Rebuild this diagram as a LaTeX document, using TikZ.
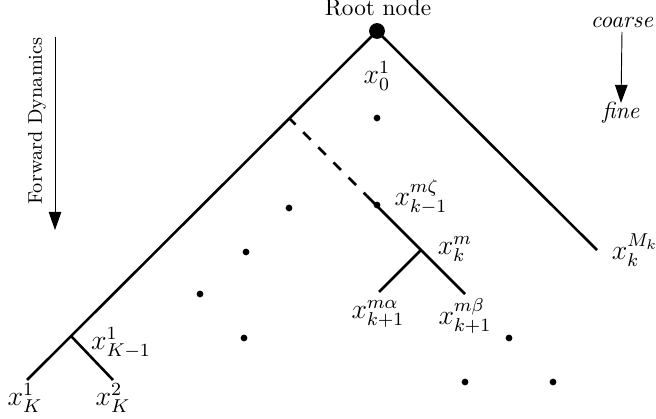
\documentclass[tikz,border=0pt]{standalone}
\usetikzlibrary{arrows.meta}
\begin{document}
\begin{tikzpicture}[x=0.43pt,y=-0.43pt,
  branch/.style={line width=1.1pt},
  dotmark/.style={circle,fill=black,inner sep=0pt,minimum size=2.9pt},
  lbl/.style={inner sep=0pt},
  mlbl/.style={inner sep=0pt,font=\large},
  bigarrow/.style={line width=0.4pt,-{Triangle[length=7.8pt,width=5.4pt]}}]
\useasboundingbox (0,0) rectangle (656,419);
% coordinates
\node[circle,fill=black,inner sep=0pt,minimum size=6.8pt] (root) at (377,31) {};
\coordinate (lend) at (27,380);
\coordinate (lb) at (71,336);
\coordinate (lbr) at (113,380);
\coordinate (ds) at (289,118);
\coordinate (de) at (367,196);
\coordinate (mb) at (421,250);
\coordinate (mend) at (465,294);
\coordinate (mal) at (379,292);
\coordinate (rend) at (597,250);
% tree lines
\draw[branch] (root.center) -- (lend);
\draw[branch] (lb) -- (lbr);
\draw[branch] (root.center) -- (rend);
\draw[branch,dash pattern=on 4.6pt off 4.6pt,dash phase=0.6pt] (ds) -- (de);
\draw[branch] (de) -- (mend);
\draw[branch] (mb) -- (mal);
% dots
\node[dotmark] (d1) at (377,118) {};
\node[dotmark] (d2) at (377,205) {};
\node[dotmark] (d3) at (289,208) {};
\node[dotmark] (d4) at (246,252) {};
\node[dotmark] (d5) at (200,294) {};
\node[dotmark] (d6) at (244,338) {};
\node[dotmark] (d7) at (509,338) {};
\node[dotmark] (d8) at (465,382) {};
\node[dotmark] (d9) at (553,382) {};
% labels
\node[lbl] (troot) at (378,8) {Root node};
\node[mlbl] (t0) at (377,76) {$x_0^1$};
\node[mlbl] (tzeta) at (421,197) {$x_{k-1}^{m\zeta}$};
\node[mlbl] (tkm) at (455,249) {$x_k^m$};
\node[mlbl] (tMk) at (635,250) {$x_k^{M_k}$};
\node[mlbl] (talpha) at (378,314) {$x_{k+1}^{m\alpha}$};
\node[mlbl] (tbeta) at (465,316) {$x_{k+1}^{m\beta}$};
\node[mlbl] (tK1) at (121,343) {$x_{K-1}^1$};
\node[mlbl] (tKa) at (25,398) {$x_K^1$};
\node[mlbl] (tKb) at (113,398) {$x_K^2$};
% forward dynamics
\node[lbl,rotate=90,font=\fontsize{8.5}{10}\selectfont] (tfd) at (37,121) {Forward Dynamics};
\coordinate (fa) at (55,37);
\coordinate (fb) at (55,230);
\draw[bigarrow] (fa) -- (fb);
% coarse / fine
\node[lbl] (tcoarse) at (622,22) {\textit{coarse}};
\node[lbl] (tfine) at (621,113) {\textit{fine}};
\draw[bigarrow] (tcoarse.south |- 0,32) -- (tfine.north |- 0,103);
\end{tikzpicture}
\end{document}
